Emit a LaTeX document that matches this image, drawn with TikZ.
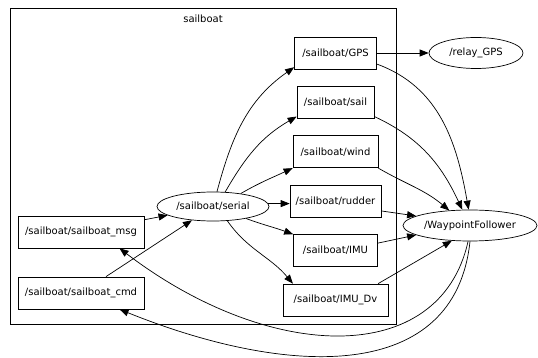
\documentclass[tikz,border=0pt]{standalone}
\usepackage{fontspec}
\setmainfont{DejaVu Sans}
\usetikzlibrary{arrows.meta}
\usetikzlibrary{shapes.geometric}
\usetikzlibrary{calc}

\begin{document}
\begin{tikzpicture}[x=1pt, y=1pt, line width=.7pt, >={Triangle[length=9pt,width=7pt]},
 topic/.style={draw, rectangle, minimum height=32pt, inner sep=0},
 nodeoval/.style={draw, ellipse, inner sep=0},
 font=\fontsize{10}{12}\selectfont]
\useasboundingbox (0,0) rectangle (538,358);
\draw (10,34) rectangle (396,350);
\node (clusterlabel) at (203,339) {sailboat};
\foreach \n/\t/\w [count=\i from 0] in {gps/GPS/82, sail/sail/77, wind/wind/85, rudder/rudder/91, imu/IMU/84, imudv/IMU\_Dv/105}
 \node[topic, minimum width=\w pt] (\n) at (335.5,{305-49.4*\i}) {/sailboat/\t};
\node[nodeoval, minimum width=112pt, minimum height=29pt] (serial) at (213,151.5) {/sailboat/serial};
\node[nodeoval, minimum width=94pt, minimum height=31pt] (relay) at (476,305) {/relay\_GPS};
\node[nodeoval, minimum width=134pt, minimum height=31pt] (wf) at (470,132.5) {/WaypointFollower};
\node[topic, minimum width=126pt] (msg) at (81,126) {/sailboat/sailboat\_msg};
\node[topic, minimum width=126pt] (cmd) at (81,65) {/sailboat/sailboat\_cmd};
\draw[->] (gps) -- (relay);
\draw[->] (serial.75) to[out=75,in=215] (gps.199);
\draw[->] (serial.50) to[out=60,in=210] (sail.200);
\draw[->] (serial.25) to[out=30,in=205] (wind.south west);
\draw[->] (serial.3) -- (serial.3 -| rudder.west);
\draw[->] (serial.-20) to[out=-20,in=160] (imu.north west);
\draw[->] (serial.-45) to[out=-55,in=130] (imudv.159);
\draw[->] (msg) -- (serial);
\draw[->] (cmd) -- (serial);
\draw[->] (gps.-15) to[out=-20,in=100] (wf.95);
\draw[->] (sail.-20) to[out=-25,in=115] (wf.116);
\draw[->] (wind.south east) to[out=-30,in=140] (wf.144);
\draw[->] (rudder.-12) -- (wf.170);
\draw[->] (imu.10) -- (wf.190);
\draw[->] (imudv.21) -- (wf.220);
\draw[->] (wf.-97) .. controls (440,-10) and (270,-5) .. (msg.-23);
\draw[->] (wf.-90) .. controls (455,-25) and (290,-20) .. (cmd.-23);
\end{tikzpicture}
\end{document}
